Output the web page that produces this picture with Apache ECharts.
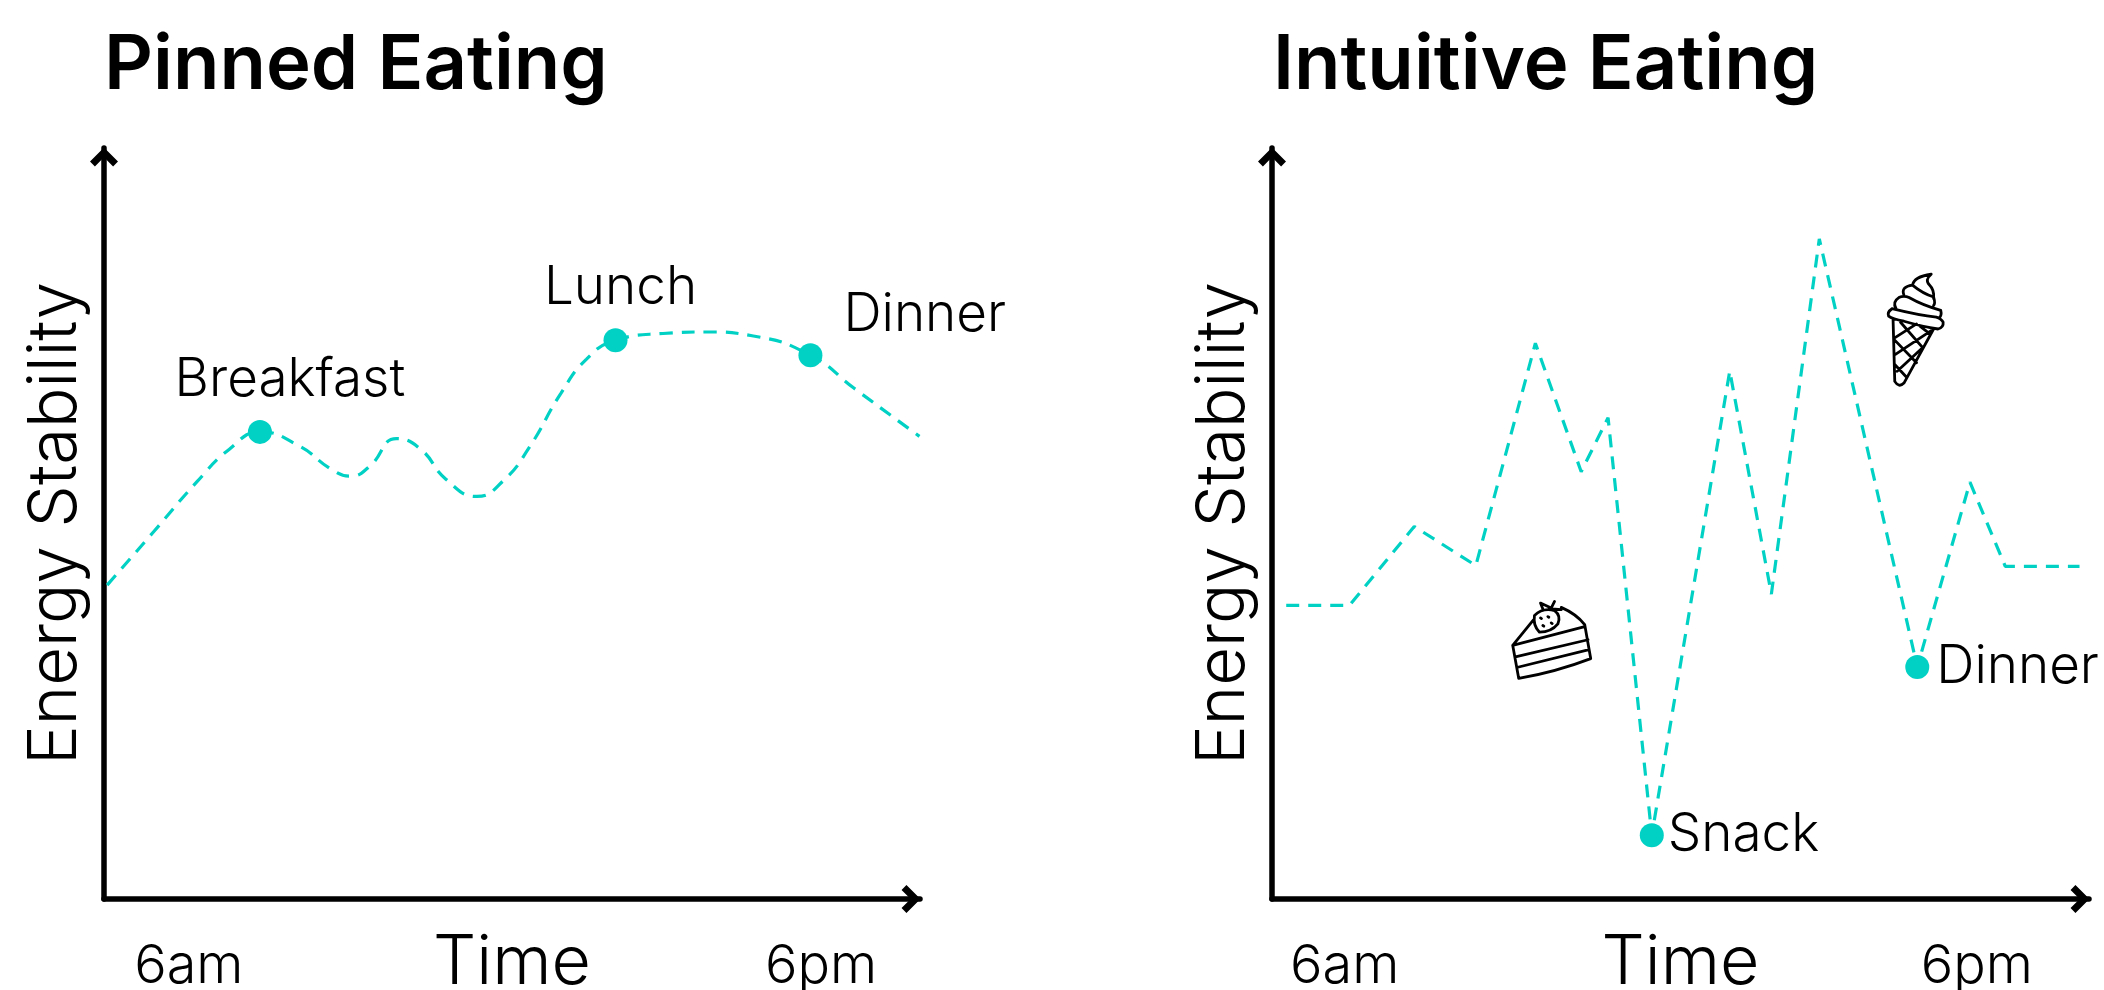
<!DOCTYPE html>
<html><head><meta charset="utf-8">
<style>html,body{margin:0;padding:0;background:#fff}#c{width:2104px;height:990px}</style>
<script src="https://cdn.jsdelivr.net/npm/echarts@6/dist/echarts.min.js"></script>
</head><body><div id="c"></div>
<script>
const titles = ['Pinned Eating', 'Intuitive Eating'];
const xName = 'Time', yName = 'Energy Stability';
const tickValues = [6, 18];
const tickLabels = {6: '6am', 18: '6pm'};
const pinnedHours = [4.45,5.32,6.16,6.77,7.35,8.10,8.71,9.07,9.43,9.94,10.40,10.88,11.47,11.97,12.46,13.06,13.55,14.10,15.0,15.85,16.69,17.80,18.63,19.87];
const pinnedEnergy = [41.8,48.8,55.6,59.9,62.2,60.3,57.2,56.3,57.6,61.3,59.9,55.9,53.6,55.7,60.1,67.3,71.9,74.4,75.3,75.5,75,72.4,68,61.6];
const pinnedMeals = [['Breakfast',7.35,62.2],['Lunch',14.10,74.4],['Dinner',17.80,72.4]];
const intuitiveHours = [4.89,6.09,7.32,8.49,9.62,10.49,11.0,11.83,13.31,14.10,15.01,16.87,17.87,18.54,19.95];
const intuitiveEnergy = [39.1,39.1,49.6,44.4,74,56.9,64.1,8.5,70.3,40.6,87.9,30.9,55.5,44.3,44.3];
const intuitiveMeals = [['Snack',11.83,8.5],['Dinner',16.87,30.9]];
const iconHours = [9.93, 16.84];
const iconEnergy = [34.5, 75.8];

const TEAL = '#00d1c4', FONT = 'Inter';
const chevron = 'path://M0,10 L10,0 L20,10 L16.5,13.5 L10,7 L3.5,13.5 Z';
const pair = (a, b) => a.map((v, i) => [v, b[i]]);
const cake = 'M100,255 L118,355 Q230,335 333,295 L315,192 Q290,160 245,140 M100,255 L162,178 M100,255 L315,198 M108,290 L325,238 M112,322 L328,268 M165,165 Q190,140 225,150 Q245,165 235,190 Q215,215 180,215 Q160,195 165,165 M190,145 L183,127 L215,142 L225,122 M218,145 L245,147 M183,172 L186,174 M205,168 L208,170 M215,187 L218,189 M190,195 L193,197';
const cone = 'M100,175 Q85,185 90,197 Q100,205 135,212 Q190,228 235,235 Q252,230 250,215 Q245,205 230,200 Q180,195 100,175 M112,175 Q100,155 120,142 Q135,135 150,142 Q190,165 243,180 Q247,195 238,203 M135,135 Q125,110 160,105 Q190,130 222,140 Q228,160 222,165 M160,105 Q165,80 215,73 Q195,90 210,105 Q225,120 222,145 M103,205 L108,390 Q120,410 135,395 L222,235 M125,215 L190,290 M180,225 L212,250 M105,265 L172,335 M108,340 L140,375 M110,260 L172,220 M110,310 L215,240 M115,360 L188,292';
const iconShapes = [{d:cake, w:78, h:77}, {d:cone, w:55, h:111}];

function axisX(i, min, max) {
  return {type:'value', gridIndex:i, min, max, name:xName, nameLocation:'middle', nameGap:31, nameMoveOverlap:false,
    nameTextStyle:{fontFamily:FONT, fontWeight:300, fontSize:68, color:'#000'},
    axisLine:{lineStyle:{color:'#000', width:5.5, cap:'round'}, symbol:['none', chevron], symbolSize:[28,19], symbolOffset:[0,-9]},
    axisTick:{show:false}, splitLine:{show:false},
    axisLabel:{customValues:tickValues, formatter:v => tickLabels[v] || '', margin:41, fontFamily:FONT, fontWeight:300, fontSize:54, color:'#000'}};
}
function axisY(i) {
  return {type:'value', gridIndex:i, min:0, max:100, name:yName, nameLocation:'middle', nameGap:15, nameMoveOverlap:false,
    nameTextStyle:{fontFamily:FONT, fontWeight:300, fontSize:67, color:'#000'},
    axisLine:{show:true, lineStyle:{color:'#000', width:5.5, cap:'round'}, symbol:['none', chevron], symbolSize:[28,19], symbolOffset:[0,-9]},
    axisTick:{show:false}, splitLine:{show:false}, axisLabel:{show:false}};
}
function meals(i, data, labels) {
  return {type:'scatter', xAxisIndex:i, yAxisIndex:i, symbol:'circle', symbolSize:24, z:5, clip:false,
    itemStyle:{color:TEAL, opacity:1},
    data:data.map((m, k) => ({value:[m[1], m[2]], label:Object.assign({show:true, formatter:m[0], fontFamily:FONT, fontWeight:300, fontSize:53, color:'#000'}, labels[k])}))};
}
const chart = echarts.init(document.getElementById('c'), null, {renderer:'canvas'});
chart.setOption({
  animation:false, backgroundColor:'#fff',
  title:[
    {text:titles[0], left:99, top:23, textStyle:{fontFamily:FONT, fontWeight:600, fontSize:76, color:'#000'}},
    {text:titles[1], left:1268, top:23, textStyle:{fontFamily:FONT, fontWeight:600, fontSize:76, color:'#000'}}
  ],
  grid:[{left:104, top:148, width:816, height:751, outerBoundsMode:'none'},{left:1272, top:148, width:817, height:751, outerBoundsMode:'none'}],
  xAxis:[axisX(0,4.39,19.88), axisX(1,4.62,20.13)],
  yAxis:[axisY(0), axisY(1)],
  series:[
    {type:'line', xAxisIndex:0, yAxisIndex:0, data:pair(pinnedHours,pinnedEnergy), smooth:0.5, showSymbol:false, clip:false, lineStyle:{color:TEAL, width:3.2, type:[13,9]}},
    meals(0, pinnedMeals, [
      {position:'top', offset:[30,-8]}, {position:'top', offset:[5,-9]}, {position:'right', offset:[16,-40]}]),
    {type:'line', xAxisIndex:1, yAxisIndex:1, data:pair(intuitiveHours,intuitiveEnergy), showSymbol:false, clip:false, lineStyle:{color:TEAL, width:3.2, type:[13,9]}},
    meals(1, intuitiveMeals, [
      {position:'right', distance:4}, {position:'right', distance:7}]),
    {type:'custom', xAxisIndex:1, yAxisIndex:1, clip:false, silent:true, data:pair(iconHours,iconEnergy),
      renderItem:(params, api) => {
        const c = api.coord([api.value(0), api.value(1)]);
        const s = iconShapes[params.dataIndex];
        return {type:'path', shape:{pathData:s.d, x:c[0]-s.w/2, y:c[1]-s.h/2, width:s.w, height:s.h, layout:'cover'},
          style:{fill:'none', stroke:'#000', lineWidth:2.8, lineCap:'round', lineJoin:'round'}};
      }}
  ]
});
</script></body></html>
